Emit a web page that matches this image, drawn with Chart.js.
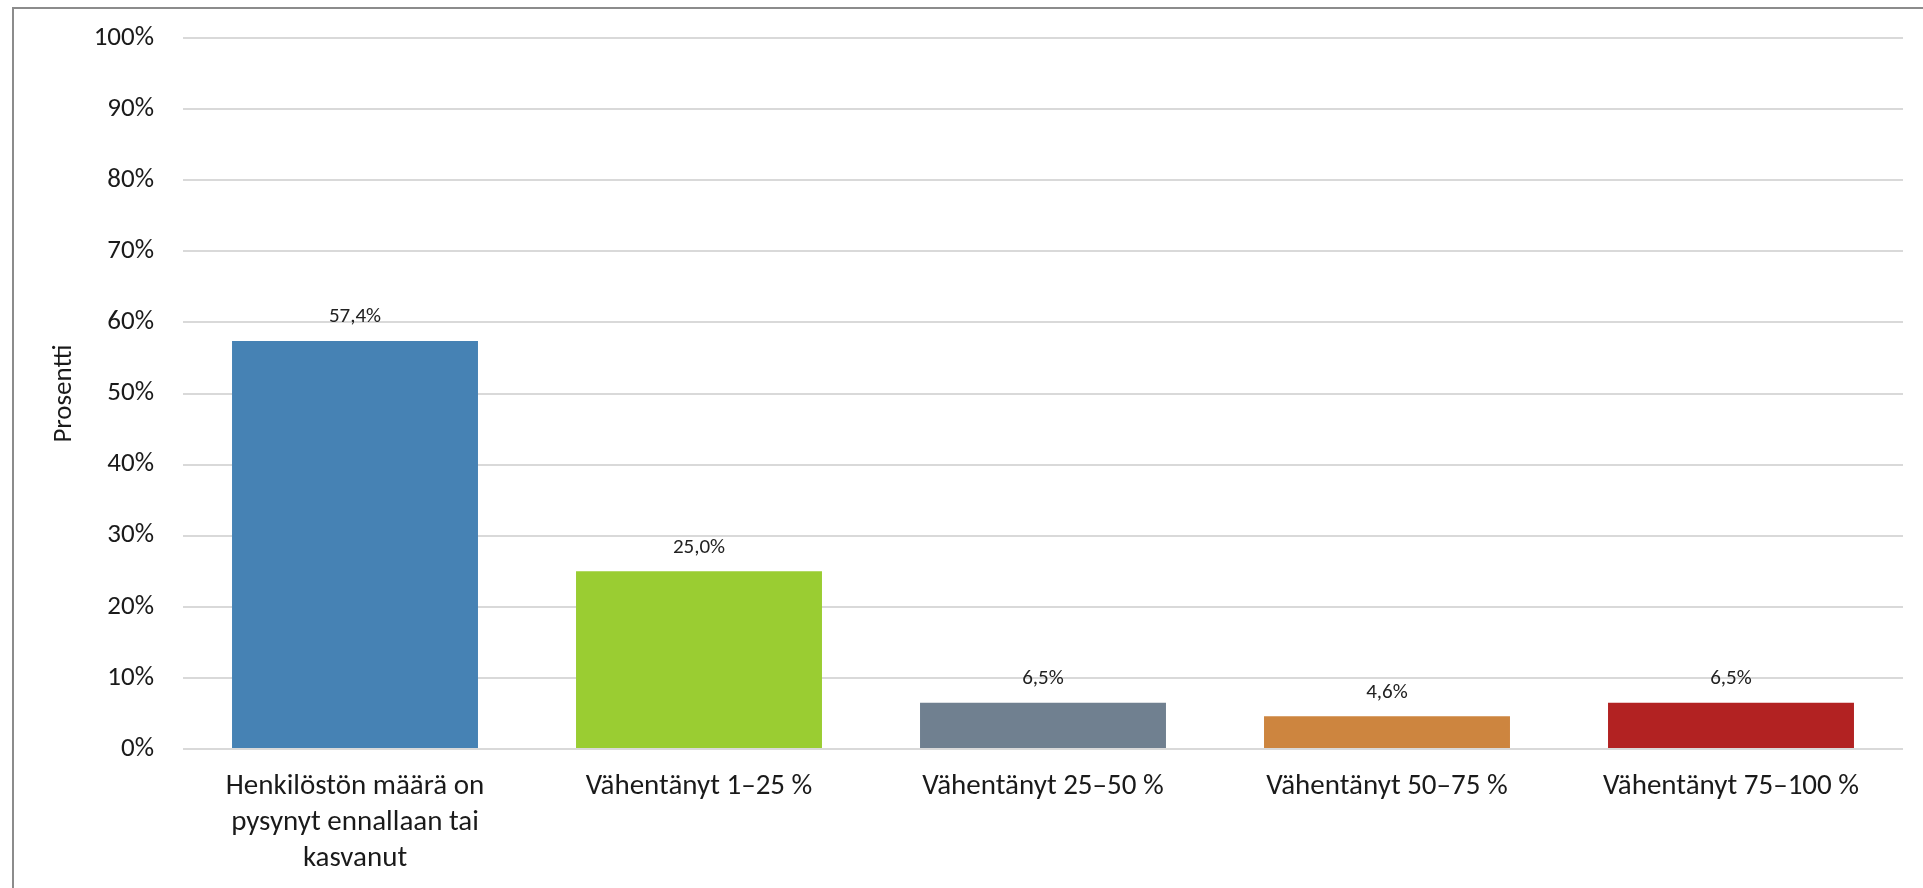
<!DOCTYPE html>
<html lang="fi">
<head>
  <meta charset="UTF-8">
  <title>Henkilöstön määrä</title>
  <script src="https://cdn.jsdelivr.net/npm/chart.js"></script>
  <style>
    html, body {
      margin: 0;
      padding: 0;
      background: #fff;
      overflow: hidden;
    }
    .wrap {
      position: relative;
      width: 1923px;
      height: 888px;
      overflow: hidden;
    }
    .frame {
      position: absolute;
      left: 12px;
      top: 7px;
      width: 2000px;
      height: 1000px;
      border: 2px solid #8c8c8c;
    }
    canvas {
      position: absolute;
      left: 0;
      top: 0;
    }
  </style>
</head>
<body>
  <div class="wrap">
    <div class="frame"></div>
    <canvas id="chart" width="1923" height="888"></canvas>
  </div>

  <script>
    const FONT = 'Calibri, Carlito, Lato, sans-serif';

    // data
    const categories = [
      ['Henkilöstön määrä on', 'pysynyt ennallaan tai', 'kasvanut'],
      'Vähentänyt 1–25 %',
      'Vähentänyt 25–50 %',
      'Vähentänyt 50–75 %',
      'Vähentänyt 75–100 %'
    ];
    const values = [57.4, 25.0, 6.5, 4.6, 6.5];
    const barColors = ['#4682B4', '#9ACD32', '#708090', '#CD853F', '#B22222'];
    const yTicks = [0, 10, 20, 30, 40, 50, 60, 70, 80, 90, 100];

    // values above the bars
    const valueLabels = {
      id: 'valueLabels',
      afterDatasetsDraw(chart) {
        const ctx = chart.ctx;
        const meta = chart.getDatasetMeta(0);
        ctx.save();
        ctx.font = '21px ' + FONT;
        ctx.fillStyle = '#222';
        ctx.textAlign = 'center';
        ctx.textBaseline = 'middle';
        meta.data.forEach((bar, i) => {
          const txt = values[i].toFixed(1).replace('.', ',') + '%';
          ctx.fillText(txt, bar.x, bar.y - 24);
        });
        ctx.restore();
      }
    };

    new Chart(document.getElementById('chart'), {
      type: 'bar',
      data: {
        labels: categories,
        datasets: [{
          data: values,
          backgroundColor: barColors,
          borderWidth: 0,
          categoryPercentage: 1,
          barPercentage: 0.715
        }]
      },
      options: {
        responsive: false,
        animation: false,
        layout: {
          padding: { left: 40, right: 20, top: 38, bottom: 0 }
        },
        plugins: {
          legend: { display: false },
          tooltip: { enabled: false }
        },
        scales: {
          x: {
            grid: { display: false, drawTicks: false },
            border: { display: false },
            ticks: {
              color: '#1a1a1a',
              font: { family: FONT, size: 29, lineHeight: 1.24 },
              padding: 20,
              maxRotation: 0,
              autoSkip: false
            },
            afterFit(scale) { scale.height = 139; }
          },
          y: {
            min: 0,
            max: 100,
            afterBuildTicks(scale) {
              scale.ticks = yTicks.map(v => ({ value: v }));
            },
            grid: { color: '#d9d9d9', lineWidth: 2, drawTicks: false },
            border: { display: false },
            ticks: {
              color: '#1a1a1a',
              font: { family: FONT, size: 27 },
              padding: 29,
              callback: v => v + '%'
            },
            title: {
              display: true,
              text: 'Prosentti',
              color: '#1a1a1a',
              font: { family: FONT, size: 27 },
              padding: { top: 8, bottom: 0 }
            },
            afterFit(scale) {
              scale.width = 143;
              // tick padding should not push the plot area down
              scale.paddingTop = 0;
              scale.paddingBottom = 0;
            }
          }
        }
      },
      plugins: [valueLabels]
    });
  </script>
</body>
</html>
